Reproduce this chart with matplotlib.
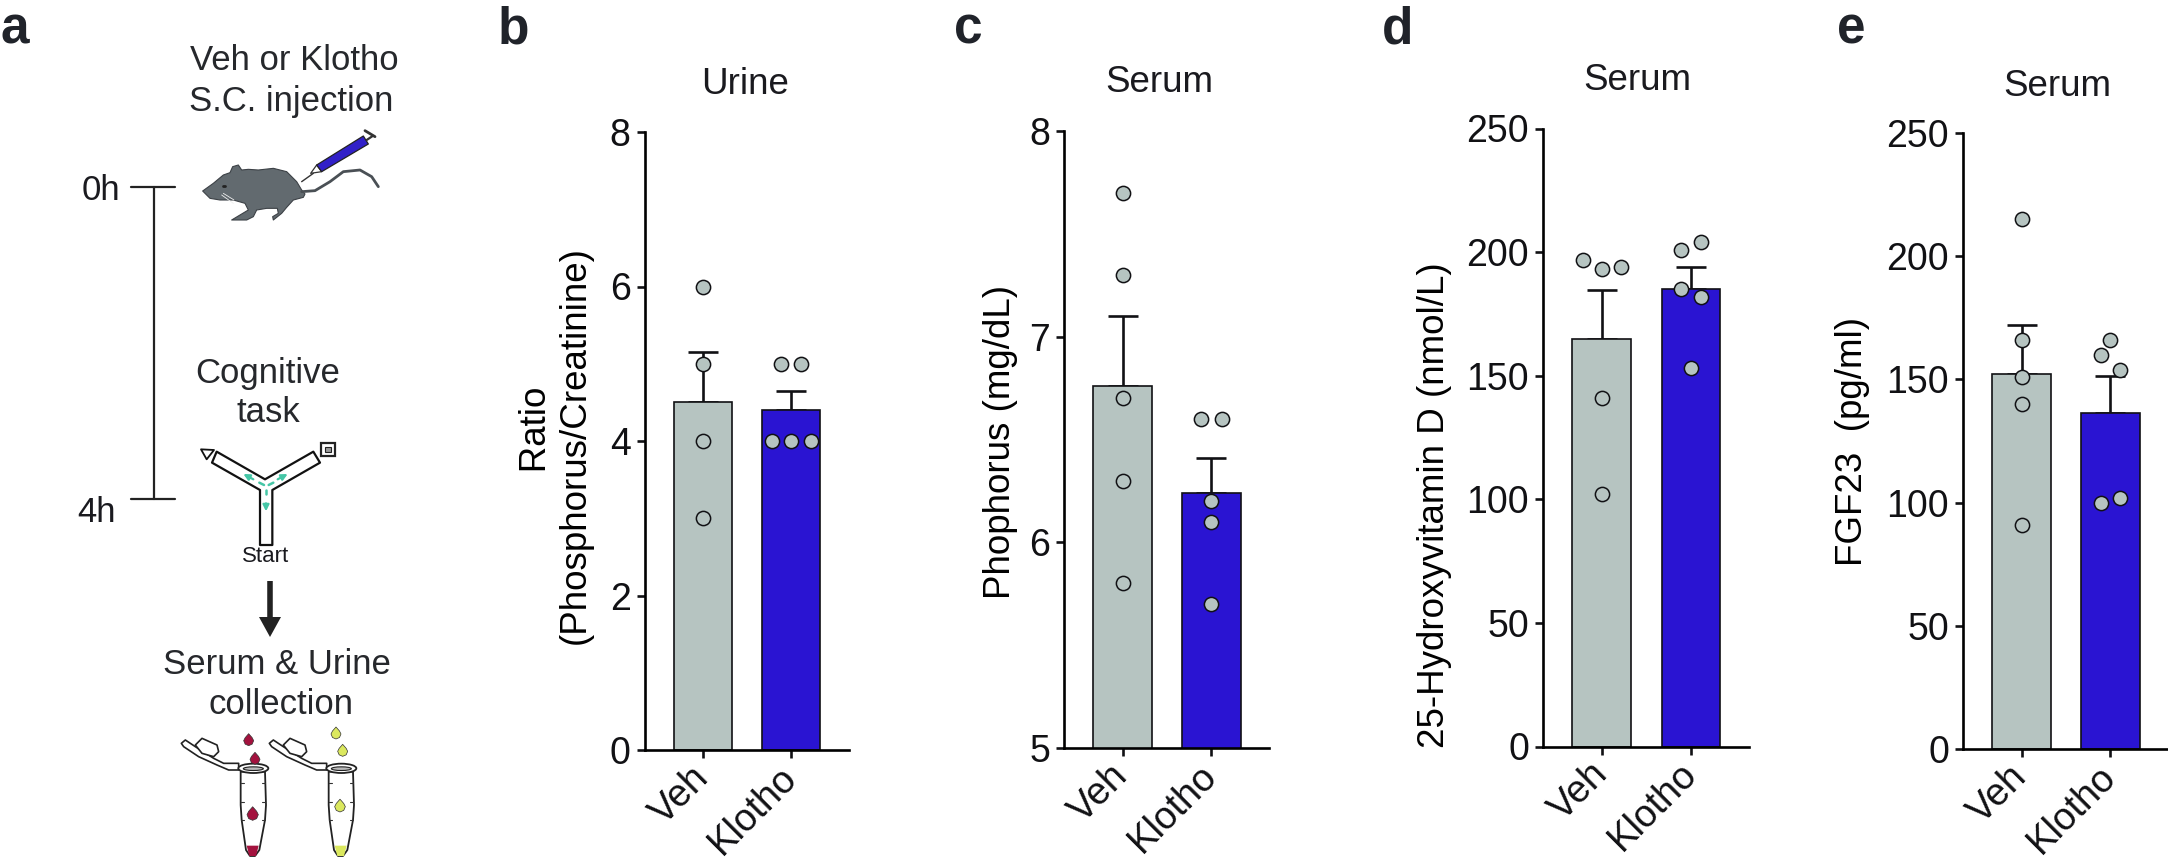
import matplotlib
matplotlib.use('Agg')

import matplotlib.pyplot as plt
from matplotlib.patches import Polygon, Ellipse, Rectangle

plt.rcParams['font.family'] = ['Liberation Sans', 'DejaVu Sans']
plt.rcParams['text.color'] = '#1a1a1f'

W, H = 2168, 864

groups = ['Veh', 'Klotho']

# bar means and top of the error bar, one entry per panel
urine_ratio_mean = [4.5, 4.4]
urine_ratio_top = [5.15, 4.65]
urine_ratio_veh = [6, 5, 4, 3]
urine_ratio_klotho = [5, 5, 4, 4, 4]

phosphorus_mean = [6.76, 6.24]
phosphorus_top = [7.1, 6.41]
phosphorus_veh = [7.7, 7.3, 6.7, 6.3, 5.8]
phosphorus_klotho = [6.6, 6.6, 6.2, 6.1, 5.7]

vitd_mean = [165, 185]
vitd_top = [184.5, 194]
vitd_veh = [197, 193, 194, 141, 102]
vitd_klotho = [201, 204, 185, 182, 153]

fgf23_mean = [152, 136.5]
fgf23_top = [172, 151.5]
fgf23_veh = [215, 166, 151, 140, 91]
fgf23_klotho = [166, 160, 154, 100, 102]

GREY = '#b6c4c1'
BLUE = '#2a14d2'
INK = '#111114'

fig = plt.figure(figsize=(W / 100, H / 100), dpi=100, facecolor='white')


def add_panel(box, ylim, yticks, mean, top, veh, klotho, veh_dx, klotho_dx,
              title, title_xy, ylabel, ylabel_xy):
    left, right, y_bottom, y_top = box
    ax = fig.add_axes([left / W, 1 - y_bottom / H, (right - left) / W, (y_bottom - y_top) / H])
    ax.patch.set_alpha(0)
    xs = [0, 1]
    ax.errorbar(xs, mean, yerr=[[0, 0], [t - m for t, m in zip(top, mean)]], fmt='none',
                ecolor=INK, elinewidth=1.9, capsize=11, capthick=1.9, zorder=1)
    ax.bar(xs, mean, width=0.66, color=[GREY, BLUE], edgecolor=INK, linewidth=1.2, zorder=2)
    ax.scatter([0 + d for d in veh_dx], veh, s=105, color=GREY, edgecolor=INK, linewidth=1.1, zorder=3, clip_on=False)
    ax.scatter([1 + d for d in klotho_dx], klotho, s=105, color=GREY, edgecolor=INK, linewidth=1.1, zorder=3, clip_on=False)
    ax.set_xlim(-0.66, 1.65)
    ax.set_ylim(*ylim)
    ax.set_yticks(yticks)
    ax.set_xticks(xs)
    ax.set_xticklabels(groups, rotation=45, ha='right', va='center', rotation_mode='anchor', fontsize=27.5)
    ax.spines['top'].set_visible(False)
    ax.spines['right'].set_visible(False)
    ax.spines['left'].set_linewidth(1.9)
    ax.spines['bottom'].set_linewidth(1.9)
    ax.tick_params(axis='y', labelsize=27, width=1.9, length=6, pad=4, colors=INK)
    ax.tick_params(axis='x', width=1.9, length=6, pad=10, colors=INK)
    ax.set_ylabel(ylabel, fontsize=26.5, va='center', linespacing=1.12)
    ax.yaxis.set_label_coords((ylabel_xy[0] - left) / (right - left),
                              (y_bottom - ylabel_xy[1]) / (y_bottom - y_top))
    ax.text((title_xy[0] - left) / (right - left), (y_bottom - title_xy[1]) / (y_bottom - y_top),
            title, transform=ax.transAxes, fontsize=26.5, ha='center', va='center')
    return ax


add_panel((644.6, 848.6, 750, 132), (0, 8), [0, 2, 4, 6, 8], urine_ratio_mean, urine_ratio_top,
          urine_ratio_veh, urine_ratio_klotho, [0, 0, 0, 0], [-0.115, 0.115, -0.22, 0, 0.22],
          'Urine', (745, 84), '   Ratio\n(Phosphorus/Creatinine)', (556, 445))
add_panel((1064, 1269, 748, 131), (5, 8), [5, 6, 7, 8], phosphorus_mean, phosphorus_top,
          phosphorus_veh, phosphorus_klotho, [0, 0, 0, 0, 0], [-0.115, 0.115, 0, 0, 0],
          'Serum', (1159, 83), 'Phophorus (mg/dL)', (1001, 442))
add_panel((1543, 1749, 746.5, 128.5), (0, 250), [0, 50, 100, 150, 200, 250], vitd_mean, vitd_top,
          vitd_veh, vitd_klotho, [-0.21, 0, 0.22, 0, 0], [-0.11, 0.11, -0.11, 0.11, 0],
          'Serum', (1637, 80), '25-Hydroxyvitamin D (nmol/L)', (1434, 505))
add_panel((1963, 2168, 749, 133), (0, 250), [0, 50, 100, 150, 200, 250], fgf23_mean, fgf23_top,
          fgf23_veh, fgf23_klotho, [0, 0, 0, 0, 0], [0, -0.11, 0.11, -0.11, 0.11],
          'Serum', (2057, 86), 'FGF23  (pg/ml)', (1853, 441))

# overlay in pixel coordinates for panel letters and the schematic
ov = fig.add_axes([0, 0, 1, 1], zorder=-1)
ov.set_xlim(0, W)
ov.set_ylim(H, 0)
ov.axis('off')

for letter, x in zip('abcde', [0, 498, 954, 1382, 1837]):
    ov.text(x, 44, letter, fontsize=37, fontweight='bold', ha='left', va='baseline', color='#20232a')


def crop(ox, oy, points):
    # schematic shapes were measured on 3x crops starting at (ox, oy)
    return [(ox + x / 3, oy + y / 3) for x, y in points]


def poly(points, **kw):
    kw.setdefault('joinstyle', 'round')
    ov.add_patch(Polygon(points, closed=True, **kw))


def line(points, **kw):
    kw.setdefault('solid_capstyle', 'round')
    ov.plot([p[0] for p in points], [p[1] for p in points], **kw)


for s, x, y in [('Veh or Klotho', 294, 61), ('S.C. injection', 291, 102), ('Cognitive', 268, 373),
                ('task', 268, 413), ('Serum & Urine', 277, 664), ('collection', 281, 705)]:
    ov.text(x, y, s, fontsize=25, ha='center', va='center', color='#26282c')
ov.text(101, 190, '0h', fontsize=25, ha='center', va='center')
ov.text(97, 513, '4h', fontsize=25, ha='center', va='center')
ov.text(266, 557, 'Start', fontsize=16, ha='center', va='center')

# timeline
line([(131, 187), (175, 187)], color='#222', lw=1.6)
line([(131, 499), (175, 499)], color='#222', lw=1.6)
line([(154, 187), (154, 499)], color='#222', lw=1.6)

# mouse
MOUSE = '#626a6f'
mx, my = 190, 120
line(crop(mx, my, [(335, 215), (375, 212), (420, 185), (460, 155), (510, 150), (545, 170), (565, 200)]),
     color='#4a5055', lw=2.0)
poly(crop(mx, my, [(38, 213), (70, 190), (100, 165), (120, 158), (128, 140), (145, 135), (155, 150), (175, 148),
                   (205, 150), (250, 145), (290, 155), (320, 185), (335, 210), (345, 222), (340, 232), (310, 240),
                   (290, 262), (275, 280), (250, 300), (248, 290), (265, 280), (262, 265), (230, 265), (200, 270),
                   (190, 290), (170, 300), (125, 300), (150, 285), (175, 270), (165, 250), (130, 240), (90, 240),
                   (60, 235)]), facecolor=MOUSE, edgecolor='#3c4146', lw=0.8)
line(crop(mx, my, [(95, 225), (130, 250)]), color='#eee', lw=0.6)
line(crop(mx, my, [(100, 220), (132, 240)]), color='#eee', lw=0.6)
line(crop(mx, my, [(100, 197), (106, 197)]), color='#222', lw=2)

# syringe
line(crop(mx, my, [(335, 185), (370, 160)]), color='#333', lw=1)
poly(crop(mx, my, [(362, 160), (380, 135), (395, 155)]), facecolor='white', edgecolor='#333', lw=0.9)
poly(crop(mx, my, [(380, 135), (520, 48), (535, 72), (395, 155)]), facecolor='#3120c8', edgecolor='#222', lw=0.9)
line(crop(mx, my, [(530, 60), (548, 48)]), color='#333', lw=1.6)
line(crop(mx, my, [(525, 32), (555, 50)]), color='#333', lw=2)

# Y maze
yx, yy = 190, 440
poly(crop(yx, yy, [(80, 35), (225, 118), (370, 35), (390, 68), (247, 150), (247, 315), (210, 315), (210, 150), (66, 68)]),
     facecolor='white', edgecolor='#111', lw=1.6)
poly(crop(yx, yy, [(33, 28), (72, 30), (50, 58)]), facecolor='white', edgecolor='#111', lw=1.3)
ov.add_patch(Rectangle((yx + 392 / 3, yy + 10 / 3), 43 / 3, 38 / 3, facecolor='white', edgecolor='#222', lw=1.6))
ov.add_patch(Rectangle((yx + 405 / 3, yy + 22 / 3), 17 / 3, 15 / 3, facecolor='#999', edgecolor='#222', lw=0.8))
TEAL = '#45c6a6'
for a, b in [((190, 118), (160, 102)), ((263, 118), (293, 102)), ((228, 190), (228, 214))]:
    (x0, y0), (x1, y1) = crop(yx, yy, [a, b])
    ov.annotate('', xy=(x1, y1), xytext=(x0, y0),
                arrowprops=dict(arrowstyle='-|>', color=TEAL, lw=1.6, mutation_scale=9, shrinkA=0, shrinkB=0))
for a, b in [((208, 128), (222, 135)), ((250, 128), (236, 135)), ((228, 150), (228, 163))]:
    line(crop(yx, yy, [a, b]), color=TEAL, lw=1.8)

# arrow to collection
line([(270, 581), (270, 620)], color='#222', lw=4, solid_capstyle='butt')
poly([(259, 617), (281, 617), (270, 637)], color='#222', lw=0)

# tubes
tx, ty = 190, 730


def drop(cx, cy, r, color):
    poly(crop(tx, ty, [(cx, cy - 1.4 * r), (cx + 0.7 * r, cy - 0.6 * r), (cx + r, cy), (cx + 0.7 * r, cy + 0.7 * r),
                       (cx, cy + r), (cx - 0.7 * r, cy + 0.7 * r), (cx - r, cy), (cx - 0.7 * r, cy - 0.6 * r)]),
         facecolor=color, edgecolor='#333', lw=0.5)


def tube(cx, liquid, drops):
    poly(crop(tx, ty, [(cx - 36, 125), (cx + 37, 125), (cx + 40, 225), (cx + 37, 270), (cx + 20, 360), (cx + 7, 378),
                       (cx - 8, 378), (cx - 20, 360), (cx - 33, 270), (cx - 36, 225)]),
         facecolor='white', edgecolor='#222', lw=1.3)
    poly(crop(tx, ty, [(cx - 18, 347), (cx + 18, 347), (cx + 10, 378), (cx - 10, 378)]), color=liquid, lw=0)
    for yt in [158, 215, 270]:
        line(crop(tx, ty, [(cx - 34, yt), (cx - 26, yt)]), color='#333', lw=0.8)
        line(crop(tx, ty, [(cx + 28, yt), (cx + 36, yt)]), color='#333', lw=0.8)
    poly(crop(tx, ty, [(cx - 214, 40), (cx - 202, 30), (cx - 172, 50), (cx - 117, 85), (cx - 87, 100), (cx - 42, 100),
                       (cx - 42, 120), (cx - 72, 120), (cx - 107, 105), (cx - 162, 80), (cx - 207, 50)]),
         facecolor='white', edgecolor='#222', lw=1.2)
    poly(crop(tx, ty, [(cx - 172, 45), (cx - 152, 25), (cx - 107, 45), (cx - 102, 65), (cx - 117, 80), (cx - 152, 70)]),
         facecolor='white', edgecolor='#222', lw=1.2)
    ov.add_patch(Ellipse((tx + (cx + 2) / 3, ty + 115 / 3), 90 / 3, 28 / 3, facecolor='white', edgecolor='#222', lw=1.3))
    ov.add_patch(Ellipse((tx + (cx + 2) / 3, ty + 116 / 3), 60 / 3, 11 / 3, facecolor='#bbbbbb', edgecolor='#222', lw=0.8))
    for dx, dy, r in drops:
        drop(cx + dx, dy, r, liquid)


tube(188, '#a3123e', [(-12, 32, 15), (7, 88, 15), (0, 254, 17)])
tube(452, '#dbe85e', [(-14, 12, 15), (6, 64, 15), (-2, 230, 16)])

fig.savefig('out.png', dpi=100)
